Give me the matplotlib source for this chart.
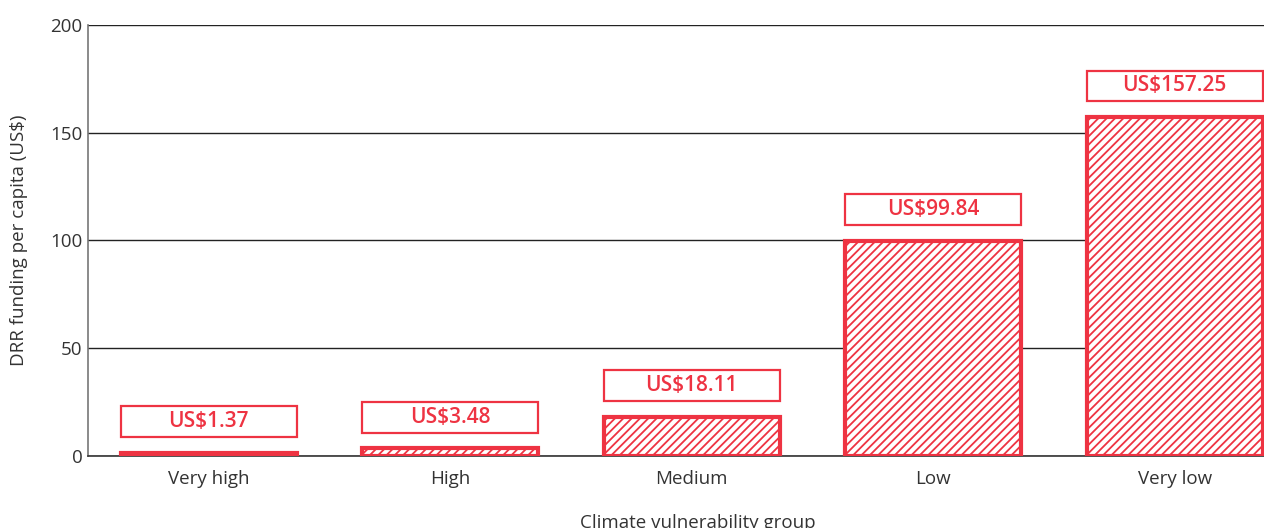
import matplotlib.pyplot as plt
from matplotlib.patches import Rectangle

# DRR funding per capita by climate vulnerability group
groups = ['Very high', 'High', 'Medium', 'Low', 'Very low']
funding = [1.37, 3.48, 18.11, 99.84, 157.25]
labels = ['US$1.37', 'US$3.48', 'US$18.11', 'US$99.84', 'US$157.25']

red = '#ee3342'
plt.rcParams['font.family'] = ['Open Sans', 'DejaVu Sans']
plt.rcParams['hatch.color'] = red
plt.rcParams['hatch.linewidth'] = 1.3

fig = plt.figure(figsize=(12.64, 5.28), dpi=100)
ax = fig.add_axes([0.0696, 0.1364, 0.9304, 0.8163])

width = 0.73
x = range(len(groups))
ax.bar(x, funding, width=width, facecolor='white', edgecolor=red,
       linewidth=3, hatch='////', zorder=3)

# value labels in outlined boxes above each bar
for i, (v, lab) in enumerate(zip(funding, labels)):
    box = Rectangle((i - width / 2, v + 7.4), width, 14.2, facecolor='white',
                    edgecolor=red, linewidth=1.6, zorder=4)
    ax.add_patch(box)
    ax.text(i, v + 7.4 + 7.1, lab, ha='center', va='center', color=red,
            fontsize=15, fontweight='semibold', zorder=5)

ax.set_xlim(-0.5, 4.37)
ax.set_ylim(0, 200)
ax.set_yticks([0, 50, 100, 150, 200])
ax.set_xticks(list(x))
ax.set_xticklabels(groups)
ax.tick_params(axis='both', length=0, labelsize=13.5, colors='#333333')
ax.tick_params(axis='x', pad=10)
ax.tick_params(axis='y', pad=4)
ax.grid(axis='y', color='#222222', linewidth=1, zorder=0)
ax.set_axisbelow(True)

for side in ['top', 'right']:
    ax.spines[side].set_visible(False)
ax.spines['left'].set_color('#777777')
ax.spines['left'].set_linewidth(1.2)
ax.spines['bottom'].set_color('#333333')
ax.spines['bottom'].set_linewidth(1.2)

ax.set_ylabel('DRR funding per capita (US$)', fontsize=13.5, color='#333333', labelpad=16)
fig.text(0.552, -0.008, 'Climate vulnerability group', ha='center', va='bottom',
         fontsize=13.5, color='#333333')

fig.savefig('out.png', dpi=100)
